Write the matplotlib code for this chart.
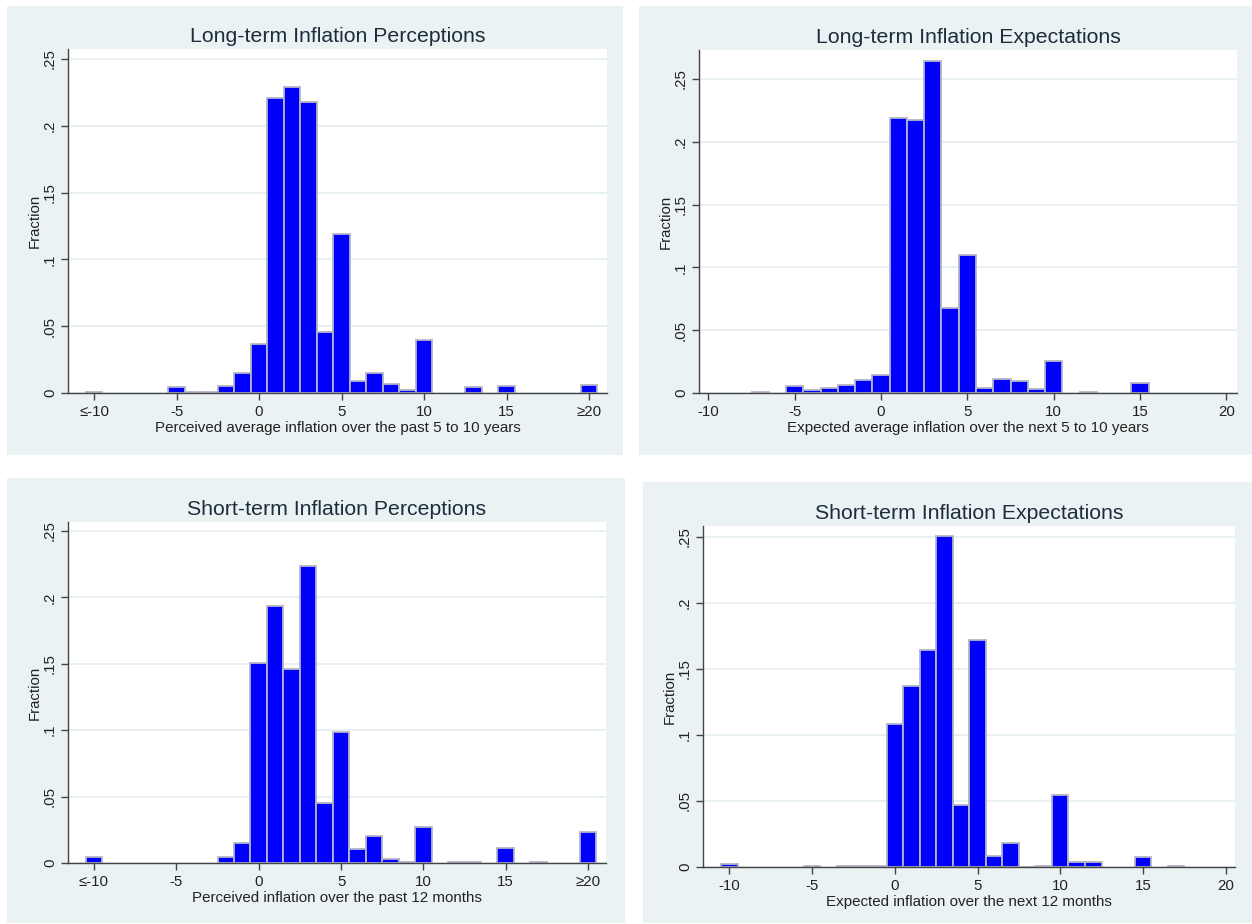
import matplotlib
matplotlib.use("Agg")
import matplotlib.pyplot as plt
from matplotlib.patches import Rectangle

plt.rcParams["font.family"] = ["Liberation Sans", "DejaVu Sans"]

# bin centres (integer inflation values) and the fraction of answers in each bin
lt_perc_bins = [-10, -5, -4, -3, -2, -1, 0, 1, 2, 3, 4, 5, 6, 7, 8, 9, 10, 13, 15, 20]
lt_perc_frac = [0.001, 0.0045, 0.0005, 0.001, 0.0055, 0.015, 0.037, 0.221, 0.229, 0.218,
                0.046, 0.119, 0.009, 0.015, 0.0067, 0.002, 0.040, 0.0045, 0.0055, 0.006]

lt_exp_bins = [-7, -5, -4, -3, -2, -1, 0, 1, 2, 3, 4, 5, 6, 7, 8, 9, 10, 12, 15]
lt_exp_frac = [0.0005, 0.0053, 0.0026, 0.0042, 0.0063, 0.0103, 0.0145, 0.2186, 0.2172, 0.264,
               0.068, 0.1097, 0.0037, 0.011, 0.0098, 0.003, 0.0256, 0.001, 0.0077]

st_perc_bins = [-10, -2, -1, 0, 1, 2, 3, 4, 5, 6, 7, 8, 9, 10, 12, 13, 15, 17, 20]
st_perc_frac = [0.0045, 0.0043, 0.015, 0.1505, 0.1936, 0.146, 0.224, 0.045, 0.099, 0.0108,
                0.020, 0.0033, 0.001, 0.027, 0.001, 0.001, 0.0115, 0.0005, 0.0233]

st_exp_bins = [-10, -5, -3, -2, -1, 0, 1, 2, 3, 4, 5, 6, 7, 8, 9, 10, 11, 12, 15, 17]
st_exp_frac = [0.0025, 0.0005, 0.0005, 0.001, 0.0005, 0.108, 0.137, 0.164, 0.2505, 0.0467,
               0.1717, 0.0083, 0.0184, 0.0003, 0.0005, 0.0543, 0.0038, 0.0038, 0.0076, 0.0005]

capped_ticks = [-10, -5, 0, 5, 10, 15, 20]
capped_labels = ["\u2264-10", "-5", "0", "5", "10", "15", "\u226520"]
plain_ticks = [-10, -5, 0, 5, 10, 15, 20]
plain_labels = ["-10", "-5", "0", "5", "10", "15", "20"]
y_ticks = [0, 0.05, 0.1, 0.15, 0.2, 0.25]
y_labels = ["0", ".05", ".1", ".15", ".2", ".25"]

W, H = 1252, 924
PANEL_BG = "#eaf2f3"
BAR_BLUE = "#0000ff"
BAR_EDGE = "#b4b4c8"
AXIS_GRAY = "#444444"
TEXT = "#1e2d3c"


def fig_rect(x0, y0, x1, y1):
    return [x0 / W, 1 - y1 / H, (x1 - x0) / W, (y1 - y0) / H]


def draw_panel(fig, panel, box, xlim, ylim, bins, frac, title, xlabel, ticks, labels):
    l, b, w, h = fig_rect(*panel)
    fig.patches.append(Rectangle((l, b), w, h, transform=fig.transFigure,
                                 facecolor=PANEL_BG, edgecolor="none", zorder=-5))
    ax = fig.add_axes(fig_rect(*box))
    ax.set_zorder(1)
    ax.set_facecolor("white")
    ax.bar(bins, frac, width=1.0, color=BAR_BLUE, edgecolor=BAR_EDGE,
           linewidth=1.3, zorder=3)
    ax.set_xlim(*xlim)
    ax.set_ylim(*ylim)
    for spine in ("top", "right"):
        ax.spines[spine].set_visible(False)
    for spine in ("left", "bottom"):
        ax.spines[spine].set_color(AXIS_GRAY)
        ax.spines[spine].set_linewidth(1.0)
        ax.spines[spine].set_zorder(4)
    ax.set_yticks(y_ticks)
    ax.set_yticklabels(y_labels, rotation=90, va="center")
    ax.set_xticks(ticks)
    ax.set_xticklabels(labels)
    ax.tick_params(axis="both", direction="out", length=5, width=1.0,
                   color=AXIS_GRAY, labelsize=10.8, labelcolor="#222222")
    ax.tick_params(axis="x", pad=4)
    ax.tick_params(axis="y", pad=3)
    ax.yaxis.grid(True, color="#e6eff0", linewidth=1.3, zorder=1)
    ax.set_axisbelow(True)
    ax.set_title(title, fontsize=15.3, color=TEXT, pad=5)
    ax.set_xlabel(xlabel, fontsize=10.9, color="#222222", labelpad=1)
    ax.set_ylabel("Fraction", fontsize=10.8, color="#222222", labelpad=1)
    return ax


def main() -> None:
    fig = plt.figure(figsize=(W / 100, H / 100), dpi=100)
    fig.patch.set_facecolor("white")

    draw_panel(fig, (7, 6, 623, 455), (68, 49, 607, 393), (-11.58, 21.09), (0, 0.2575),
               lt_perc_bins, lt_perc_frac, "Long-term Inflation Perceptions",
               "Perceived average inflation over the past 5 to 10 years",
               capped_ticks, capped_labels)
    draw_panel(fig, (639, 6, 1252, 455), (699, 50, 1237, 393), (-10.54, 20.61), (0, 0.273),
               lt_exp_bins, lt_exp_frac, "Long-term Inflation Expectations",
               "Expected average inflation over the next 5 to 10 years",
               plain_ticks, plain_labels)
    draw_panel(fig, (7, 478, 625, 923), (68, 522, 606, 863), (-11.58, 21.09), (0, 0.2568),
               st_perc_bins, st_perc_frac, "Short-term Inflation Perceptions",
               "Perceived inflation over the past 12 months",
               capped_ticks, capped_labels)
    draw_panel(fig, (643, 482, 1252, 923), (703, 526, 1235, 867), (-11.6, 20.57), (0, 0.2583),
               st_exp_bins, st_exp_frac, "Short-term Inflation Expectations",
               "Expected inflation over the next 12 months",
               plain_ticks, plain_labels)

    fig.savefig("out.png", dpi=100, facecolor="white")


if __name__ == "__main__":
    main()
